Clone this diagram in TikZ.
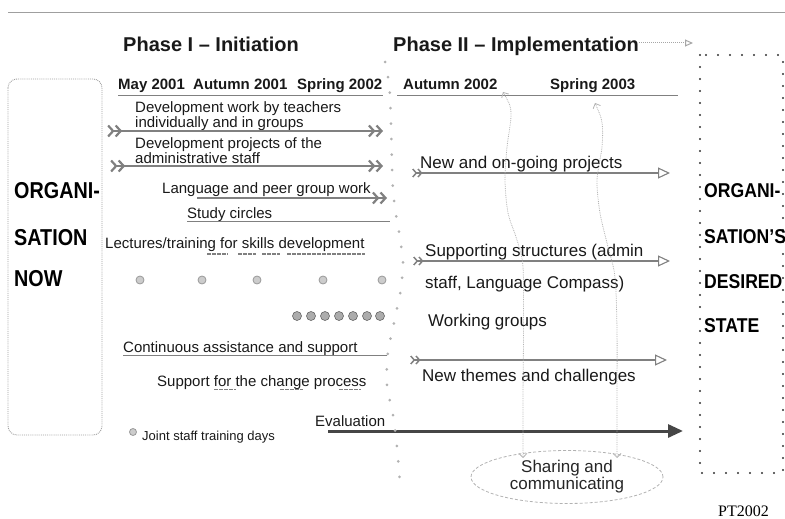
\documentclass[tikz,border=0pt]{standalone}
\usepackage{fontspec}
\setmainfont{Liberation Sans}
\newfontfamily\serifpt{Liberation Serif}
\usetikzlibrary{arrows.meta,shapes.geometric}
\newcommand\handL[1]{\scalebox{0.86}[1]{\fontsize{23}{23}\selectfont\bfseries #1}}
\newcommand\handR[1]{\scalebox{0.88}[1]{\fontsize{20}{20}\selectfont\bfseries #1}}
\begin{document}
\begin{tikzpicture}[x=1pt,y=-1pt,
  txt/.style={anchor=base west, inner sep=0pt, font=\fontsize{15}{18}\selectfont, text=black!90},
  rtxt/.style={txt, font=\fontsize{17}{20}\selectfont},
  btxt/.style={txt, font=\fontsize{15}{18}\selectfont\bfseries},
  htxt/.style={txt, font=\fontsize{20}{24}\selectfont\bfseries},
  hand/.style={anchor=base west, inner sep=0pt, text=black},
  uline/.style={draw=black!50, line width=1.6pt},
  chevhead/.style={-{Straight Barb[length=5pt,width=11pt,line width=2.2pt]Straight Barb[length=5pt,width=11pt,line width=2.2pt]}},
  chevboth/.style={{Straight Barb[reversed,length=5pt,width=11pt,line width=2.2pt]Straight Barb[reversed,length=5pt,width=11pt,line width=2.2pt]}-{Straight Barb[length=5pt,width=11pt,line width=2.2pt]Straight Barb[length=5pt,width=11pt,line width=2.2pt]}},
  chevopen/.style={{Straight Barb[reversed,length=3.5pt,width=8pt,line width=1.5pt]Straight Barb[reversed,length=3.5pt,width=8pt,line width=1.5pt]}-{Triangle[open,length=12pt,width=11pt,line width=1.1pt]}},
  wavy/.style={draw=gray!60, line width=0.8pt, densely dotted, {Straight Barb[length=4pt,width=8pt]}-{Straight Barb[length=4pt,width=8pt]}},
  stardots/.style={draw=gray!60, line width=3pt, line cap=round, dash pattern=on 0pt off 15.5pt},
  dotbox/.style={draw=black!80, line width=2.4pt, line cap=round, dash pattern=on 0pt off 12pt},
  ring/.style={circle, minimum size=8pt, inner sep=0pt, draw=gray!80, fill=gray!40, line width=0.8pt},
  blob/.style={circle, minimum size=9pt, inner sep=0pt, draw=gray!80!black, fill=gray!65, line width=0.6pt},
  dashbit/.style={draw=black!50, line width=1.5pt, dash pattern=on 4pt off 1pt}
]
\useasboundingbox (0,0) rectangle (785,519);
% top rule
\draw[draw=gray!75, line width=1.2pt] (8,12.5) -- (785,12.5);

% headings
\node[htxt] (ph1) at (123,52) {Phase I -- Initiation};
\node[htxt] (ph2) at (393,52) {Phase II -- Implementation};
\coordinate (ph2end) at (693,43);
\draw[draw=gray!70, line width=1pt, densely dotted, -{Triangle[open,length=8pt,width=7pt]}] (ph2.east |- 0,43) -- (ph2end);

% left box
\draw[draw=gray!75, line width=0.9pt, densely dotted, rounded corners=9pt] (8,79) rectangle (102,435);
\node[hand] (l1) at (14,198) {\handL{ORGANI-}};
\node[hand] (l2) at (14,245) {\handL{SATION}};
\node[hand] (l3) at (14,286) {\handL{NOW}};

% right box
\draw[dotbox] (700,55) rectangle (783,473);
\node[hand] (r1) at (704,197) {\handR{ORGANI-}};
\node[hand] (r2) at (704,243) {\handR{SATION'S}};
\node[hand] (r3) at (704,288) {\handR{DESIRED}};
\node[hand] (r4) at (704,332) {\handR{STATE}};

% dates
\node[btxt] (d1) at (118,90) {May 2001};
\node[btxt] (d2) at (193,90) {Autumn 2001};
\node[btxt] (d3) at (297,90) {Spring 2002};
\node[btxt] (d4) at (403,90) {Autumn 2002};
\node[btxt] (d5) at (550,90) {Spring 2003};
\draw[uline] (118,95.5) -- (383,95.5);
\draw[uline] (397,95.5) -- (678,95.5);

% phase I texts
\node[txt] (t1a) at (135,113) {Development work by teachers};
\node[txt] (t1b) at (135,128) {individually and in groups};
\draw[uline, line width=1.4pt, chevboth] (107,131) -- (383,131);
\node[txt] (t2a) at (135,148) {Development projects of the};
\node[txt] (t2b) at (135,163) {administrative staff};
\draw[uline, line width=1.4pt, chevboth] (110,166) -- (383,166);
\node[txt] (t3) at (162,193) {Language and peer group work};
\draw[uline, line width=1.6pt, chevhead] (197,198) -- (387,198);
\node[txt] (t4) at (187,218) {Study circles};
\draw[uline, line width=1.4pt] (187,221.5) -- (390,221.5);
\node[txt] (t5) at (105,248) {Lectures/training for skills development};
\draw[dashbit] (207,254) -- (228,254);
\draw[dashbit] (238,254) -- (256,254);
\draw[dashbit] (262,254) -- (280,254);
\draw[dashbit] (287,254) -- (365,254);

\foreach \xx/\nm in {140/a,202/b,257/c,323/d,382/e}{\node[ring] (ring\nm) at (\xx,280) {};}
\foreach \xx/\nm in {297/a,311/b,325/c,339/d,353/e,367/f,380/g}{\node[blob] (blob\nm) at (\xx,316) {};}

\node[txt] (t6) at (123,352) {Continuous assistance and support};
\draw[uline, line width=1.4pt] (123,355.5) -- (387,355.5);
\node[txt] (t7) at (157,386) {Support for the change process};
\draw[dashbit] (214,389.5) -- (236,389.5);
\draw[dashbit] (280,389.5) -- (303,389.5);
\draw[dashbit] (339,389.5) -- (361,389.5);

\node[txt] (t8) at (315,426) {Evaluation};
\coordinate (evs) at (328,431);
\coordinate (eve) at (683,431);
\draw[draw=gray!55!black, line width=3pt, -{Triangle[length=15pt,width=13pt]}] (evs) -- (eve);

\node[ring, minimum size=7pt] (jring) at (133,432) {};
\node[txt, font=\fontsize{13}{15}\selectfont] (t9) at (142,440) {Joint staff training days};

% phase II texts
\node[rtxt] (u1) at (420,168) {New and on-going projects};
\draw[uline, line width=1.4pt, chevopen] (412,173) -- (670,173);
\node[rtxt] (u2a) at (425,256) {Supporting structures (admin};
\draw[uline, line width=1.4pt, chevopen] (413,261) -- (670,261);
\node[rtxt] (u2b) at (425,288) {staff, Language Compass)};
\node[rtxt] (u3) at (428,326) {Working groups};
\draw[uline, line width=1.4pt, chevopen] (410,360) -- (667,360);
\node[rtxt] (u4) at (422,381) {New themes and challenges};

% ellipse
\node[ellipse, draw=gray!60, densely dashed, line width=0.8pt, minimum width=192pt, minimum height=53pt, inner sep=0pt, align=center, font=\fontsize{17}{17}\selectfont, text=black!85] (share) at (567,477) {Sharing and\\communicating};

% wavy lines
\coordinate (w1a) at (503,92);
\coordinate (w1b) at (523,458);
\coordinate (w2a) at (595,103);
\coordinate (w2b) at (617,458);
\draw[wavy] plot[smooth] coordinates {(w1a) (511,113) (507,147) (505,180) (508,213) (517,240) (523,267) (523.5,330) (523,400) (w1b)};
\draw[wavy] plot[smooth] coordinates {(w2a) (602,123) (602,147) (597,180) (600,213) (608,247) (615,277) (617,330) (617,400) (w2b)};

% separator of asterisks
\draw[stardots] plot[smooth] coordinates {(385,62) (390,95) (393,190) (400,238) (403,262) (401,288) (395,318) (388,352) (387,385) (393,415) (397,447) (400,482)};

% signature
\node[anchor=base west, inner sep=0pt, font=\serifpt\fontsize{16}{16}\selectfont] (sig) at (718,516) {PT2002};
\end{tikzpicture}
\end{document}
